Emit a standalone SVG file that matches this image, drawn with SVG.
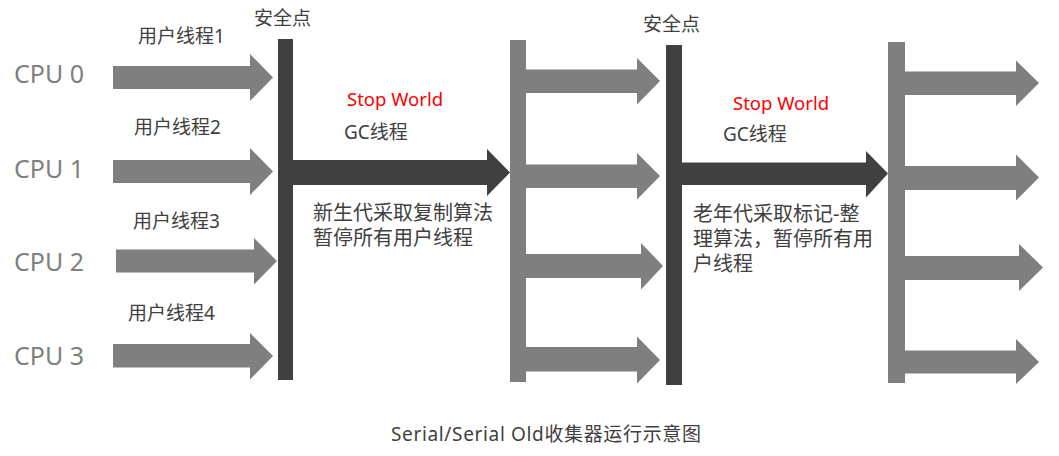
<svg xmlns="http://www.w3.org/2000/svg" width="1059" height="456" viewBox="0 0 1059 456">
<style>
text{font-family:"Noto Sans","Noto Sans CJK SC",sans-serif;fill:#404040}
.cpu{font-size:25px;fill:#7f7f7f}
.lbl{font-size:19px}
.txt{font-size:20px}
.red{font-size:18.5px;fill:#ff0000}
.g{fill:#7f7f7f}
.d{fill:#404040}
</style>
<rect width="1059" height="456" fill="#ffffff"/>
<g id="cpu0"><text class="cpu" x="14" y="83">CPU 0</text></g>
<g id="cpu1"><text class="cpu" x="14" y="178">CPU 1</text></g>
<g id="cpu2"><text class="cpu" x="14" y="271">CPU 2</text></g>
<g id="cpu3"><text class="cpu" x="14" y="365">CPU 3</text></g>
<g id="safepoint1">
<rect class="d" x="278" y="39" width="15" height="341"/>
<text class="lbl" x="254" y="25">安全点</text>
</g>
<g id="threads2">
<rect class="g" x="510" y="40" width="16" height="342"/>
</g>
<g id="safepoint2">
<rect class="d" x="666" y="45" width="16" height="340"/>
<text class="lbl" x="643" y="31">安全点</text>
</g>
<g id="threads3">
<rect class="g" x="888" y="42" width="17" height="341"/>
</g>
<g id="connectors">
<polygon class="g" points="113,66 250,66 250,54 273,77.5 250,101 250,89 113,89"/>
<polygon class="g" points="113,160 250,160 250,148 273,171.5 250,195 250,183 113,183"/>
<polygon class="g" points="116,249.5 254,249.5 254,238 277,261 254,284.5 254,272.5 116,272.5"/>
<polygon class="g" points="113,344 250,344 250,333 273,356 250,379.5 250,367.5 113,367.5"/>
<polygon class="d" points="293,160 487,160 487,149 510,172.5 487,196 487,185 293,185"/>
<polygon class="g" points="526,69.5 637,69.5 637,58 660,81 637,104.5 637,93 526,93"/>
<polygon class="g" points="526,164.5 637,164.5 637,153 660,176 637,199.5 637,188 526,188"/>
<polygon class="g" points="526,254 641,254 641,243 663,266 641,289.5 641,278 526,278"/>
<polygon class="g" points="526,347 637,347 637,336.5 660,360 637,383.5 637,371.5 526,371.5"/>
<polygon class="d" points="682,162.5 866,162.5 866,151 888,173.5 866,197.5 866,185 682,185"/>
<polygon class="g" points="905,71.5 1016,71.5 1016,60.5 1039,83 1016,106 1016,95 905,95"/>
<polygon class="g" points="905,166 1016,166 1016,154.5 1039,177.5 1016,200.5 1016,190 905,190"/>
<polygon class="g" points="905,256 1019,256 1019,244 1043,267.5 1019,291 1019,280 905,280"/>
<polygon class="g" points="905,350.5 1016,350.5 1016,339 1039,362 1016,384 1016,373.5 905,373.5"/>
</g>
<g id="labels">
<text class="lbl" x="138" y="43">用户线程1</text>
<text class="lbl" x="134" y="134">用户线程2</text>
<text class="lbl" x="133" y="228">用户线程3</text>
<text class="lbl" x="128" y="320">用户线程4</text>
<text class="red" x="347" y="106">Stop World</text>
<text class="lbl" x="344" y="139">GC线程</text>
<text class="txt" x="313" y="220"><tspan x="313" y="220">新生代采取复制算法</tspan><tspan x="313" y="245">暂停所有用户线程</tspan></text>
<text class="red" x="733" y="110">Stop World</text>
<text class="lbl" x="723" y="141">GC线程</text>
<text class="txt" x="693" y="221"><tspan x="693" y="221">老年代采取标记-整</tspan><tspan x="693" y="246">理算法，暂停所有用</tspan><tspan x="693" y="271">户线程</tspan></text>
</g>
<g id="caption"><text class="lbl" x="391" y="441" textLength="310" lengthAdjust="spacing">Serial/Serial Old收集器运行示意图</text></g>
</svg>
